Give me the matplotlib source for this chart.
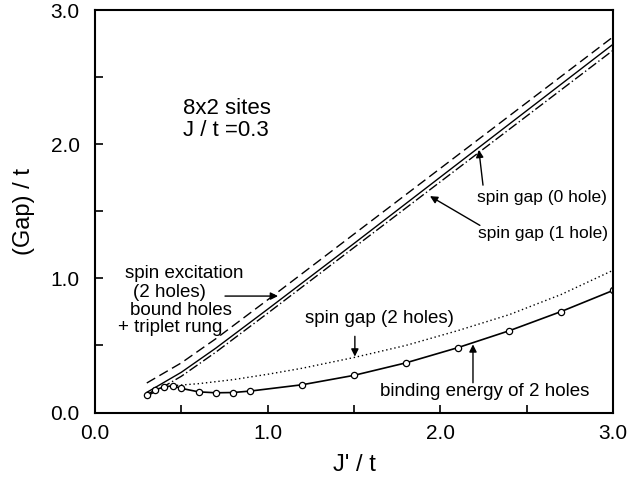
import numpy as np
from matplotlib import pyplot as plt
from matplotlib.ticker import MultipleLocator

plt.rcParams['font.family'] = ['Liberation Sans', 'DejaVu Sans']

# binding energy of 2 holes (circles)
jp_bind = [0.3, 0.35, 0.4, 0.45, 0.5, 0.6, 0.7, 0.8, 0.9, 1.2, 1.5, 1.8, 2.1, 2.4, 2.7, 3.0]
gap_bind = [0.13, 0.17, 0.19, 0.20, 0.18, 0.154, 0.147, 0.149, 0.16, 0.207, 0.277, 0.37, 0.483, 0.61, 0.753, 0.91]

# spin gap (2 holes), dotted
jp_sg2 = [0.45, 0.6, 0.8, 1.0, 1.2, 1.5, 1.8, 2.1, 2.4, 2.7, 3.0]
gap_sg2 = [0.20, 0.215, 0.245, 0.285, 0.33, 0.41, 0.50, 0.61, 0.73, 0.88, 1.06]

# spin excitation (2 holes), dashed
jp_lines = [0.3, 0.5, 0.7, 1.0, 1.5, 2.0, 2.5, 3.0]
gap_exc = [0.22, 0.37, 0.55, 0.84, 1.33, 1.82, 2.31, 2.80]
# spin gap (0 hole), solid
gap_sg0 = [0.15, 0.30, 0.48, 0.77, 1.26, 1.755, 2.25, 2.745]
# spin gap (1 hole), dash-dot
gap_sg1 = [0.12, 0.27, 0.45, 0.74, 1.23, 1.72, 2.21, 2.70]

# label lines for the spin excitation note
exc_lines = ['spin excitation', '(2 holes)', 'bound holes', '+ triplet rung']

fig = plt.figure(figsize=(6.29, 4.80), dpi=100)
ax = fig.add_axes([0.151, 0.1406, 0.8236, 0.8384])

ax.plot(jp_lines, gap_exc, color='k', lw=1.0, dashes=(7, 3.5))
ax.plot(jp_lines, gap_sg0, color='k', lw=1.0)
ax.plot(jp_lines, gap_sg1, color='k', lw=1.0, dashes=(7, 2, 1, 2))
ax.plot(jp_sg2, gap_sg2, color='k', lw=1.0, ls=(0, (1, 2)))
ax.plot(jp_bind, gap_bind, color='k', lw=1.2, marker='o', ms=4.5,
        mfc='white', mec='k', mew=0.9)

ax.set_xlim(0, 3)
ax.set_ylim(0, 3)
ax.xaxis.set_major_locator(MultipleLocator(1.0))
ax.xaxis.set_minor_locator(MultipleLocator(0.5))
ax.yaxis.set_major_locator(MultipleLocator(1.0))
ax.yaxis.set_minor_locator(MultipleLocator(0.5))
ax.xaxis.set_major_formatter('{x:.1f}')
ax.yaxis.set_major_formatter('{x:.1f}')
ax.tick_params(which='both', direction='in', length=6, width=1.2, labelsize=15)
ax.tick_params(axis='x', pad=8)
ax.tick_params(axis='y', pad=11)
for s in ax.spines.values():
    s.set_linewidth(1.5)

ax.set_xlabel("J' / t", fontsize=17, labelpad=8)
ax.set_ylabel("(Gap) / t", fontsize=17, labelpad=11)

fs = 13.5
arr = dict(arrowstyle='-|>', color='k', lw=1.0, mutation_scale=11, shrinkA=0, shrinkB=0)

ax.text(0.51, 2.27, '8x2 sites', fontsize=16, ha='left', va='center')
ax.text(0.51, 2.10, 'J / t =0.3', fontsize=16, ha='left', va='center')

ax.text(2.212, 1.60, 'spin gap (0 hole)', fontsize=12.5, ha='left', va='center')
ax.annotate('', xy=(2.223, 1.958), xytext=(2.247, 1.695), arrowprops=arr)

ax.text(2.218, 1.335, 'spin gap (1 hole)', fontsize=12.5, ha='left', va='center')
ax.annotate('', xy=(1.94, 1.613), xytext=(2.229, 1.395), arrowprops=arr)

for txt, x0, y0 in zip(exc_lines, [0.174, 0.220, 0.203, 0.133], [1.034, 0.895, 0.759, 0.632]):
    ax.text(x0, y0, txt, fontsize=fs, ha='left', va='center')
ax.annotate('', xy=(1.06, 0.868), xytext=(0.753, 0.868), arrowprops=arr)

ax.text(1.216, 0.703, 'spin gap (2 holes)', fontsize=fs, ha='left', va='center')
ax.annotate('', xy=(1.505, 0.417), xytext=(1.505, 0.568), arrowprops=arr)

ax.text(1.65, 0.158, 'binding energy of 2 holes', fontsize=fs, ha='left', va='center')
ax.annotate('', xy=(2.189, 0.508), xytext=(2.189, 0.222), arrowprops=arr)

fig.savefig('out.png', dpi=100)
